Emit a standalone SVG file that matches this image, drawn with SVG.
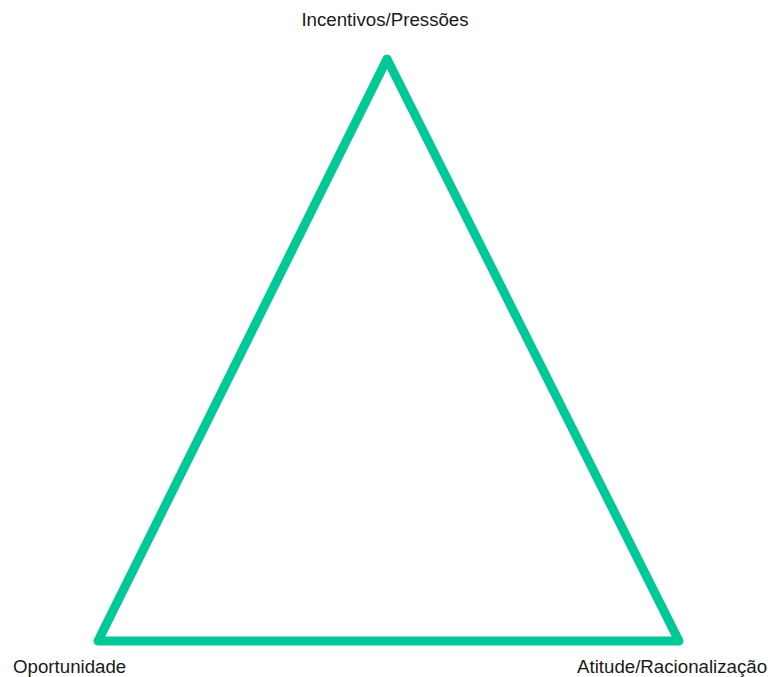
<svg xmlns="http://www.w3.org/2000/svg" width="768" height="677" viewBox="0 0 768 677">
<style>
.lbl{font-family:"Liberation Sans",Arial,sans-serif;font-size:18.7px;fill:#1a1a1a}
.edge{fill:none;stroke:#00C896;stroke-width:9;stroke-linejoin:round;stroke-linecap:round}
</style>
<rect width="768" height="677" fill="#ffffff"/>
<g id="connectors">
<polygon class="edge" points="387,59 98,641 679,641"/>
</g>
<g id="node-top"><text class="lbl" x="385" y="26" text-anchor="middle">Incentivos/Pressões</text></g>
<g id="node-left"><text class="lbl" x="13" y="673">Oportunidade</text></g>
<g id="node-right"><text class="lbl" x="577" y="673">Atitude/Racionalização</text></g>
</svg>
